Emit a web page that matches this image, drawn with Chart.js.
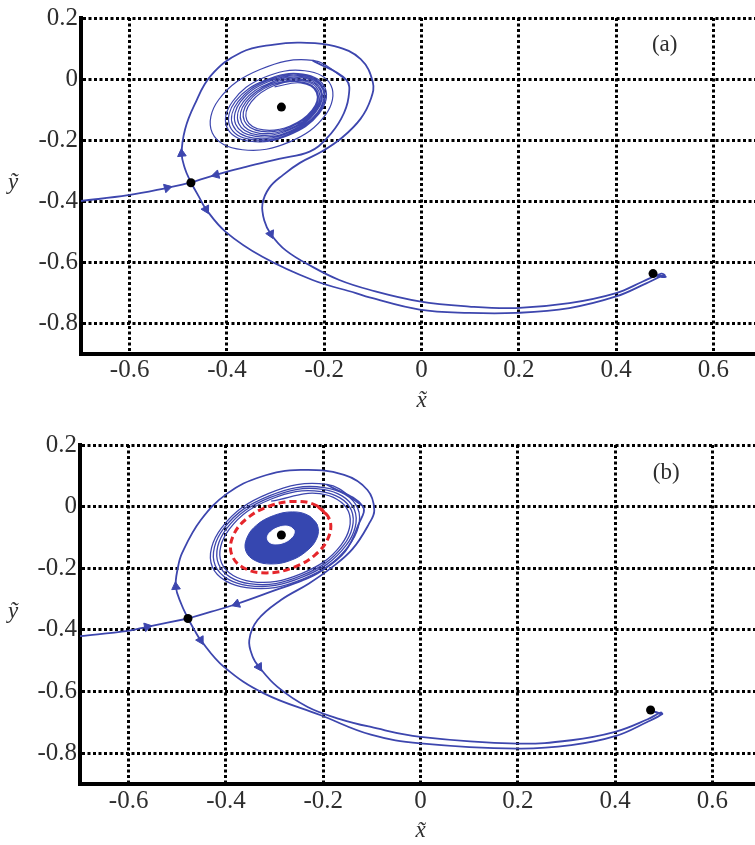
<!DOCTYPE html>
<html><head><meta charset="utf-8">
<script src="https://cdn.jsdelivr.net/npm/chart.js@4.4.1/dist/chart.umd.min.js"></script>
<style>
html,body{margin:0;padding:0;background:#fff;overflow:hidden;width:755px;height:845px;}
#wrap{position:relative;width:755px;height:845px;overflow:hidden;background:#fff;}
canvas{position:absolute;left:0;}
#ca{top:0;} #cb{top:420px;}
</style></head><body>
<div id="wrap"><canvas id="ca" width="775" height="420"></canvas><canvas id="cb" width="775" height="425"></canvas></div>
<script>
// ---------- axes ----------
const xTicks = [-0.6, -0.4, -0.2, 0, 0.2, 0.4, 0.6];
const yTicks = [0.2, 0, -0.2, -0.4, -0.6, -0.8];

// ---------- panel (a) ----------
const inflowA = [[-0.70,-0.400],[-0.603,-0.381],[-0.523,-0.357],[-0.474,-0.340]];
const spiralA = [
 [-0.302,-0.026],[-0.248,-0.013],[-0.216,-0.044],[-0.225,-0.102],[-0.270,-0.154],[-0.325,-0.167],[-0.359,-0.135],[-0.350,-0.075],
 [-0.304,-0.022],[-0.248,-0.009],[-0.214,-0.042],[-0.223,-0.104],[-0.270,-0.158],[-0.329,-0.172],[-0.364,-0.138],[-0.356,-0.075],
 [-0.307,-0.019],[-0.247,-0.005],[-0.211,-0.040],[-0.221,-0.105],[-0.271,-0.163],[-0.333,-0.178],[-0.370,-0.142],[-0.361,-0.075],
 [-0.310,-0.016],[-0.246,-0.001],[-0.208,-0.038],[-0.219,-0.107],[-0.272,-0.167],[-0.337,-0.183],[-0.376,-0.145],[-0.366,-0.074],
 [-0.312,-0.013],[-0.246,0.004],[-0.206,-0.036],[-0.217,-0.108],[-0.272,-0.172],[-0.341,-0.188],[-0.382,-0.148],[-0.372,-0.074],
 [-0.315,-0.009],[-0.245,0.008],[-0.203,-0.034],[-0.214,-0.110],[-0.273,-0.176],[-0.345,-0.194],[-0.388,-0.151],[-0.377,-0.074],
 [-0.318,-0.006],[-0.244,0.012],[-0.201,-0.032],[-0.212,-0.111],[-0.274,-0.181],[-0.349,-0.199],[-0.394,-0.155],[-0.383,-0.074],
 [-0.320,-0.003],[-0.244,0.016],[-0.198,-0.030],[-0.210,-0.113],[-0.274,-0.185],[-0.353,-0.204],[-0.400,-0.158],[-0.388,-0.073],
 [-0.325,0.004],[-0.240,0.027],[-0.186,-0.021],[-0.197,-0.117],[-0.271,-0.206],[-0.368,-0.232],[-0.430,-0.177],[-0.417,-0.068],
 [-0.332,0.031],[-0.224,0.061],[-0.155,-0.002]
];
const stableA = [
 [-0.224,0.061],[-0.155,-0.002],[-0.150,-0.060],[-0.165,-0.130],[-0.195,-0.195],[-0.230,-0.238],[-0.293,-0.262],
 [-0.361,-0.288],[-0.423,-0.314],[-0.474,-0.340]
];
const upperA = [
 [-0.474,-0.340],[-0.486,-0.295],[-0.493,-0.245],[-0.486,-0.165],[-0.467,-0.086],[-0.433,0.011],[-0.371,0.087],[-0.303,0.113],
 [-0.248,0.119],[-0.179,0.108],[-0.125,0.065],[-0.100,-0.011],[-0.104,-0.065],[-0.125,-0.130],[-0.163,-0.192],[-0.205,-0.238],
 [-0.250,-0.275],[-0.285,-0.315],[-0.313,-0.357],[-0.327,-0.410],[-0.323,-0.465],[-0.310,-0.508],[-0.279,-0.562],[-0.224,-0.616],
 [-0.169,-0.659],[-0.107,-0.691],[-0.004,-0.729],[0.098,-0.746],[0.194,-0.751],[0.304,-0.735],[0.400,-0.702],[0.455,-0.664],
 [0.493,-0.638],[0.500,-0.644],[0.490,-0.645],[0.478,-0.640]
];
const lowerA = [
 [-0.474,-0.340],[-0.458,-0.385],[-0.443,-0.427],[-0.402,-0.502],[-0.327,-0.583],[-0.224,-0.659],[-0.135,-0.702],[-0.107,-0.716],
 [-0.004,-0.756],[0.098,-0.767],[0.194,-0.767],[0.304,-0.751],[0.400,-0.713],[0.462,-0.670],[0.497,-0.645],[0.502,-0.649],
 [0.490,-0.648],[0.477,-0.641]
];
const fixedA = [[-0.474,-0.340],[-0.288,-0.092],[0.476,-0.638]];
const arrowsA = [[-0.523,-0.357],[-0.422,-0.314],[-0.493,-0.245],[-0.443,-0.427],[-0.310,-0.508]];
const arrowDirA = [75, 255, 355, 151, 155];

// ---------- panel (b) ----------
const inflowB = [[-0.70,-0.420],[-0.601,-0.403],[-0.562,-0.390],[-0.478,-0.363]];
const spiralB = [
 [-0.307,0.018],[-0.207,0.042],[-0.148,-0.016],[-0.163,-0.124],[-0.246,-0.218],[-0.348,-0.243],[-0.409,-0.183],[-0.393,-0.073],
 [-0.308,0.024],[-0.204,0.049],[-0.142,-0.012],[-0.158,-0.125],[-0.245,-0.224],[-0.352,-0.250],[-0.415,-0.187],[-0.399,-0.072],
 [-0.310,0.029],[-0.201,0.056],[-0.136,-0.009],[-0.153,-0.126],[-0.243,-0.229],[-0.355,-0.256],[-0.422,-0.191],[-0.404,-0.070],
 [-0.311,0.035],[-0.198,0.062],[-0.129,-0.005],[-0.148,-0.128],[-0.242,-0.235],[-0.358,-0.263],[-0.428,-0.195],[-0.409,-0.069],
 [-0.313,0.042],[-0.193,0.072],[-0.119,0.002]
];
const stableB = [
 [-0.193,0.072],[-0.119,0.002],[-0.128,-0.060],[-0.155,-0.145],[-0.205,-0.210],[-0.244,-0.240],[-0.300,-0.272],
 [-0.378,-0.316],[-0.430,-0.341],[-0.478,-0.363]
];
const upperB = [
 [-0.478,-0.363],[-0.492,-0.315],[-0.503,-0.260],[-0.499,-0.200],[-0.490,-0.150],[-0.452,-0.044],[-0.397,0.043],[-0.328,0.097],
 [-0.246,0.119],[-0.157,0.103],[-0.109,0.054],[-0.095,-0.011],[-0.106,-0.056],[-0.140,-0.138],[-0.183,-0.198],[-0.230,-0.250],
 [-0.287,-0.303],[-0.335,-0.368],[-0.352,-0.433],[-0.345,-0.487],[-0.332,-0.520],[-0.294,-0.585],[-0.232,-0.650],[-0.164,-0.690],
 [-0.102,-0.715],[0.000,-0.747],[0.200,-0.769],[0.310,-0.758],[0.400,-0.731],[0.467,-0.690],[0.494,-0.668],[0.496,-0.672],[0.480,-0.664]
];
const lowerB = [
 [-0.478,-0.363],[-0.465,-0.400],[-0.452,-0.433],[-0.404,-0.520],[-0.322,-0.606],[-0.205,-0.677],[-0.102,-0.740],[0.000,-0.768],
 [0.200,-0.785],[0.310,-0.774],[0.400,-0.745],[0.467,-0.698],[0.497,-0.673],[0.490,-0.671],[0.475,-0.662]
];
const limitCycleB = [
 [-0.212,0.002],[-0.187,-0.041],[-0.189,-0.099],[-0.217,-0.157],[-0.264,-0.199],[-0.317,-0.215],[-0.363,-0.199],
 [-0.388,-0.156],[-0.386,-0.098],[-0.358,-0.040],[-0.310,0.002],[-0.257,0.017],[-0.212,0.002],[-0.187,-0.041]
];
const blobOuterB = [
 [-0.230,-0.029],[-0.212,-0.060],[-0.213,-0.102],[-0.234,-0.144],[-0.268,-0.175],[-0.307,-0.186],[-0.340,-0.175],
 [-0.359,-0.144],[-0.357,-0.102],[-0.337,-0.060],[-0.302,-0.029],[-0.263,-0.017],[-0.230,-0.029],[-0.212,-0.060]
];
const blobHoleB = [
 [-0.267,-0.067],[-0.260,-0.077],[-0.261,-0.091],[-0.269,-0.106],[-0.282,-0.117],[-0.296,-0.121],[-0.308,-0.118],
 [-0.314,-0.108],[-0.314,-0.094],[-0.306,-0.079],[-0.293,-0.068],[-0.279,-0.063],[-0.267,-0.067],[-0.260,-0.077]
];
const fixedB = [[-0.478,-0.363],[-0.286,-0.092],[0.473,-0.660]];
const arrowsB = [[-0.562,-0.390],[-0.378,-0.316],[-0.503,-0.260],[-0.452,-0.433],[-0.332,-0.520]];
const arrowDirB = [78, 250, 355, 150, 148];

// ---------- styling ----------
const BLUE = '#3d46ae';
const BLOB = '#3647b0';
const RED = '#e5262b';
const SERIF = '"Liberation Serif", "Times New Roman", serif';

const P = a => a.map(([x, y]) => ({x, y}));
const curve = (pts, extra) => Object.assign({
  data: P(pts), showLine: true, borderColor: BLUE, borderWidth: 1.8, pointRadius: 0,
  pointHoverRadius: 0, tension: 0.4, fill: false, order: 5
}, extra || {});
const arrows = (pts, dirs) => ({
  data: P(pts), showLine: false, pointStyle: 'triangle', pointRotation: dirs, pointRadius: 5,
  backgroundColor: BLUE, borderColor: BLUE, borderWidth: 1, order: 2
});
const fixed = pts => ({
  data: P(pts), showLine: false, pointStyle: 'circle', pointRadius: 4.5,
  backgroundColor: '#000', borderColor: '#000', borderWidth: 0, order: 1
});

const textPlugin = {
  id: 'panelText',
  afterDraw(chart, args, o) {
    const {ctx, chartArea, scales} = chart;
    ctx.save();
    ctx.fillStyle = '#2e2e2e';
    ctx.textAlign = 'center';
    ctx.textBaseline = 'middle';
    ctx.font = '23px ' + SERIF;
    ctx.fillText(o.tag, scales.x.getPixelForValue(o.tagX), scales.y.getPixelForValue(o.tagY));
    ctx.font = 'italic 23px ' + SERIF;
    ctx.fillText('x\u0303', scales.x.getPixelForValue(0), chartArea.bottom + 47);
    ctx.fillText('\u1EF9', 13, (chartArea.top + chartArea.bottom) / 2 - 3);
    ctx.restore();
  }
};

function axis(ticksArr, fitFn) {
  return {
    type: 'linear',
    afterBuildTicks: s => { s.ticks = ticksArr.map(v => ({value: v})); },
    afterFit: fitFn,
    grid: {color: '#000', lineWidth: 3, drawTicks: false},
    border: {display: true, color: '#000', width: 4, dash: [3, 2.5]},
    ticks: {padding: 3, color: '#2e2e2e', font: {family: SERIF, size: 25}, maxRotation: 0, autoSkip: false,
            callback: v => String(v)}
  };
}

function makePanel(id, lay, datasets, tag) {
  const xs = axis(xTicks, s => { s.height = lay.H - lay.B; });
  xs.min = -0.7; xs.max = 0.7; xs.ticks.padding = 2;
  const ys = axis(yTicks, s => { s.width = lay.L; });
  ys.min = -0.9; ys.max = 0.2;
  return new Chart(document.getElementById(id), {
    type: 'scatter',
    data: {datasets},
    plugins: [textPlugin],
    options: {
      responsive: false, animation: false, devicePixelRatio: 1, events: [],
      layout: {padding: {top: lay.T, left: 0, right: lay.W - lay.R, bottom: 0}},
      plugins: {legend: {display: false}, tooltip: {enabled: false}, panelText: tag},
      scales: {x: xs, y: ys}
    }
  });
}

makePanel('ca', {W: 775, H: 420, T: 15, B: 353.5, L: 81, R: 762}, [
  curve(inflowA), curve(spiralA, {borderWidth: 1.2}), curve(stableA), curve(upperA), curve(lowerA),
  arrows(arrowsA, arrowDirA), fixed(fixedA)
], {tag: '(a)', tagX: 0.5, tagY: 0.112});

makePanel('cb', {W: 775, H: 425, T: 25, B: 364, L: 80, R: 761}, [
  curve(blobOuterB, {fill: 'shape', backgroundColor: BLOB, borderColor: BLOB, borderWidth: 1, order: 10}),
  curve(blobHoleB, {fill: 'shape', backgroundColor: '#fff', borderColor: '#fff', borderWidth: 1, order: 9}),
  curve(limitCycleB, {borderColor: RED, borderWidth: 3, borderDash: [7, 4], order: 8}),
  curve(inflowB), curve(spiralB, {borderWidth: 1.3}), curve(stableB), curve(upperB), curve(lowerB),
  arrows(arrowsB, arrowDirB), fixed(fixedB)
], {tag: '(b)', tagX: 0.505, tagY: 0.109});
</script>
</body></html>
